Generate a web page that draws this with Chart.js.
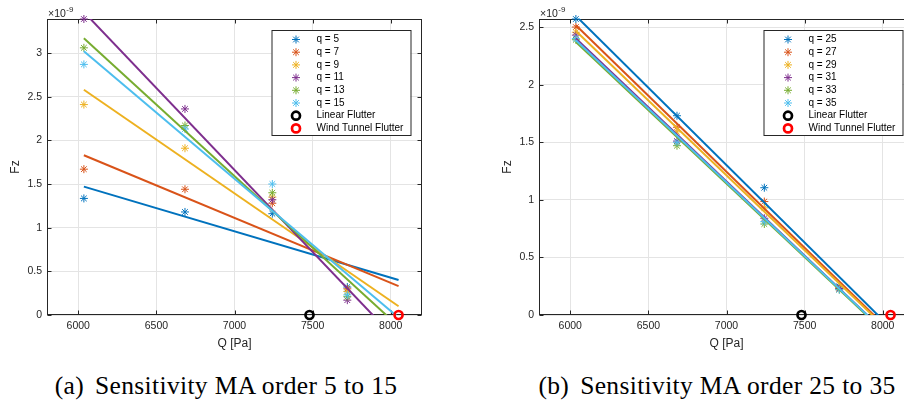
<!DOCTYPE html>
<html><head><meta charset="utf-8">
<script src="https://cdn.jsdelivr.net/npm/chart.js@4.4.1/dist/chart.umd.min.js"></script>
<style>
html,body{margin:0;padding:0;background:#fff;overflow:hidden;width:904px;height:405px;}
#wrap{position:relative;width:904px;height:405px;overflow:hidden;background:#fff;}
canvas{position:absolute;top:0;}
#cA{left:0px}
#cB{left:492px}
.cap{position:absolute;top:373px;width:452px;text-align:center;font-family:"Liberation Serif","Times New Roman","DejaVu Serif",serif;font-size:25.5px;line-height:25px;letter-spacing:0.35px;color:#000;white-space:nowrap;}
.gap{display:inline-block;width:11px;}
</style></head>
<body><div id="wrap">
<canvas id="cA" width="452" height="355"></canvas>
<canvas id="cB" width="452" height="355"></canvas>
<div class="cap" style="left:0px">(a)<span class="gap"></span>Sensitivity MA order 5 to 15</div>
<div class="cap" style="left:491px">(b)<span class="gap"></span>Sensitivity MA order 25 to 35</div>
</div>
<script>
// ---------- data ----------
const qSamples = [6036, 6683, 7242, 7722];      // Q [Pa] of the sampled points
const fitRange = [6036, 8050];                  // Q range of fitted lines
const linearFlutterQ = 7480;
const windTunnelFlutterQ = 8050;
const flutterFz = 0;
const xLimits = [5800, 8200];
const xTickValues = [6000, 6500, 7000, 7500, 8000];
const yTickValuesA = [0, 0.5, 1, 1.5, 2, 2.5, 3];
const yTickValuesB = [0, 0.5, 1, 1.5, 2, 2.5];

const labelsA = ['q = 5', 'q = 7', 'q = 9', 'q = 11', 'q = 13', 'q = 15'];
const fzA_q5  = [1.335, 1.18, 1.16, 0.32];
const fzA_q7  = [1.67, 1.44, 1.28, 0.30];
const fzA_q9  = [2.41, 1.91, 1.35, 0.27];
const fzA_q11 = [3.39, 2.36, 1.32, 0.17];
const fzA_q13 = [3.06, 2.17, 1.40, 0.21];
const fzA_q15 = [2.87, 2.13, 1.50, 0.23];
const fitA_q5  = [1.47, 0.40];
const fitA_q7  = [1.83, 0.33];
const fitA_q9  = [2.58, 0.10];
const fitA_q11 = [3.47, -0.31];
const fitA_q13 = [3.17, -0.13];
const fitA_q15 = [3.02, -0.03];

const labelsB = ['q = 25', 'q = 27', 'q = 29', 'q = 31', 'q = 33', 'q = 35'];
const fzB_q25 = [2.57, 1.73, 1.105, 0.25];
const fzB_q27 = [2.50, 1.63, 0.985, 0.24];
const fzB_q29 = [2.455, 1.59, 0.93, 0.23];
const fzB_q31 = [2.43, 1.51, 0.84, 0.23];
const fzB_q33 = [2.39, 1.47, 0.79, 0.22];
const fzB_q35 = [2.40, 1.50, 0.81, 0.22];
const fitB_q25 = [2.597, -0.110];
const fitB_q27 = [2.515, -0.142];
const fitB_q29 = [2.466, -0.153];
const fitB_q31 = [2.40, -0.193];
const fitB_q33 = [2.37, -0.198];
const fitB_q35 = [2.385, -0.192];

const seriesColors = ['#0072BD', '#D95319', '#EDB120', '#7E2F8E', '#77AC30', '#4DBEEE'];
const TXT = '#262626';
const FONT = '"Liberation Sans", Arial, Helvetica, sans-serif';

function buildDatasets(labels, fzSeries, fitSeries) {
  const ds = [];
  labels.forEach((lab, i) => {
    ds.push({
      legendText: lab,
      data: qSamples.map((q, k) => ({x: q, y: fzSeries[i][k]})),
      showLine: false,
      pointStyle: 'star', pointRadius: 4, pointBorderWidth: 1,
      borderColor: seriesColors[i], backgroundColor: seriesColors[i],
      clip: false, order: 200 - i
    });
    ds.push({
      data: fitRange.map((q, k) => ({x: q, y: fitSeries[i][k]})),
      showLine: true, pointRadius: 0, borderWidth: 2,
      borderColor: seriesColors[i], backgroundColor: seriesColors[i],
      clip: 0, order: 100 - i
    });
  });
  ds.push({
    legendText: 'Linear Flutter',
    data: [{x: linearFlutterQ, y: flutterFz}],
    showLine: false, pointStyle: 'circle', pointRadius: 4, pointBorderWidth: 2.7,
    borderColor: '#000000', backgroundColor: 'rgba(0,0,0,0)', clip: false, order: 2
  });
  ds.push({
    legendText: 'Wind Tunnel Flutter',
    data: [{x: windTunnelFlutterQ, y: flutterFz}],
    showLine: false, pointStyle: 'circle', pointRadius: 4, pointBorderWidth: 2.7,
    borderColor: '#FF0000', backgroundColor: 'rgba(0,0,0,0)', clip: false, order: 1
  });
  return ds;
}

const matlabAxes = {
  id: 'matlabAxes',
  beforeDatasetsDraw(chart) {
    const {ctx, chartArea: a, scales} = chart;
    ctx.save();
    ctx.strokeStyle = TXT;
    ctx.lineWidth = 1;
    const L = Math.round(a.left) + 0.5, R = Math.round(a.right) - 0.5;
    const T = Math.round(a.top) + 0.5, B = Math.round(a.bottom) - 0.5;
    ctx.strokeRect(L, T, R - L, B - T);
    const tl = 4;
    ctx.beginPath();
    scales.x.ticks.forEach(t => {
      const px = Math.round(scales.x.getPixelForValue(t.value)) + 0.5;
      ctx.moveTo(px, B); ctx.lineTo(px, B - tl);
      ctx.moveTo(px, T); ctx.lineTo(px, T + tl);
    });
    scales.y.ticks.forEach(t => {
      const py = Math.round(scales.y.getPixelForValue(t.value)) + 0.5;
      ctx.moveTo(L, py); ctx.lineTo(L + tl, py);
      ctx.moveTo(R, py); ctx.lineTo(R - tl, py);
    });
    ctx.stroke();
    ctx.restore();
  },
  afterDraw(chart, args, opts) {
    const {ctx, chartArea: a} = chart;
    ctx.save();
    ctx.fillStyle = TXT;
    // exponent label
    ctx.font = '10.5px ' + FONT;
    ctx.textAlign = 'left'; ctx.textBaseline = 'alphabetic';
    ctx.fillText('\u00D710', a.left + 1, 16.7);
    const w = ctx.measureText('\u00D710').width;
    ctx.font = '8px ' + FONT;
    ctx.fillText('-9', a.left + 1 + w + 0.5, 11.7);
    // axis labels
    ctx.font = '12px ' + FONT;
    ctx.textAlign = 'center';
    ctx.fillText('Q [Pa]', (a.left + a.right) / 2, 346.5);
    ctx.save();
    ctx.translate(16, (a.top + a.bottom) / 2);
    ctx.rotate(-Math.PI / 2);
    ctx.textBaseline = 'middle';
    ctx.fillText('Fz', 0, 0);
    ctx.restore();
    // legend
    const bx = opts.box;
    ctx.fillStyle = '#ffffff';
    ctx.fillRect(bx.x, bx.y, bx.w, bx.h);
    ctx.strokeStyle = TXT; ctx.lineWidth = 1;
    ctx.strokeRect(bx.x + 0.5, bx.y + 0.5, bx.w, bx.h);
    const items = chart.data.datasets.filter(d => d.legendText);
    ctx.font = '10px ' + FONT;
    ctx.textAlign = 'left'; ctx.textBaseline = 'middle';
    items.forEach((d, i) => {
      const y = bx.y + 9.5 + i * 12.7;
      ctx.strokeStyle = d.borderColor;
      ctx.fillStyle = d.backgroundColor;
      ctx.lineWidth = d.pointBorderWidth;
      Chart.helpers.drawPoint(ctx, {pointStyle: d.pointStyle, radius: d.pointRadius, borderWidth: d.pointBorderWidth, rotation: 0}, bx.x + 24.5, y);
      ctx.fillStyle = '#000000';
      ctx.fillText(d.legendText, bx.x + 45, y);
    });
    ctx.restore();
  }
};

function makeChart(id, datasets, fzSeries, yTickValues) {
  const ymax = Math.max(...fzSeries.flat());
  return new Chart(document.getElementById(id), {
    type: 'scatter',
    data: {datasets},
    options: {
      responsive: false, animation: false, devicePixelRatio: 1,
      layout: {padding: {left: 0, top: 19, right: 30, bottom: 0}},
      plugins: {legend: {display: false}, tooltip: {enabled: false},
        matlabAxes: {box: {x: 271.5, y: 30, w: 139, h: 105}}},
      scales: {
        x: {type: 'linear', min: xLimits[0], max: xLimits[1],
          afterBuildTicks(s) { s.ticks = xTickValues.map(v => ({value: v})); },
          ticks: {padding: 5, color: TXT, maxRotation: 0, autoSkip: false,
            font: {family: FONT, size: 10.5}, callback: v => String(v)},
          grid: {color: '#e4e4e4', drawTicks: false, lineWidth: 1},
          border: {display: false},
          afterFit(s) { s.height = 40; }},
        y: {type: 'linear', min: 0, max: ymax,
          afterBuildTicks(s) { s.ticks = yTickValues.map(v => ({value: v})); },
          ticks: {padding: 5, color: TXT, autoSkip: false,
            font: {family: FONT, size: 10.5}, callback: v => String(v)},
          grid: {color: '#e4e4e4', drawTicks: false, lineWidth: 1},
          border: {display: false},
          afterFit(s) { s.width = 47; }}
      }
    },
    plugins: [matlabAxes]
  });
}

const seriesA = [fzA_q5, fzA_q7, fzA_q9, fzA_q11, fzA_q13, fzA_q15];
const fitsA = [fitA_q5, fitA_q7, fitA_q9, fitA_q11, fitA_q13, fitA_q15];
const seriesB = [fzB_q25, fzB_q27, fzB_q29, fzB_q31, fzB_q33, fzB_q35];
const fitsB = [fitB_q25, fitB_q27, fitB_q29, fitB_q31, fitB_q33, fitB_q35];

makeChart('cA', buildDatasets(labelsA, seriesA, fitsA), seriesA, yTickValuesA);
makeChart('cB', buildDatasets(labelsB, seriesB, fitsB), seriesB, yTickValuesB);
</script>
</body></html>
